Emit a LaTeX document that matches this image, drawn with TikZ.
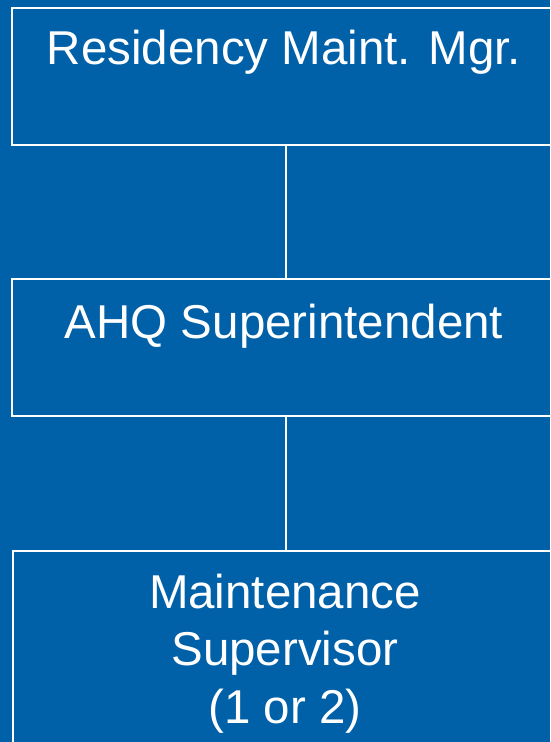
\documentclass[tikz,border=0pt]{standalone}
\usepackage{fontspec}
\setmainfont{Liberation Sans}
\definecolor{bgblue}{RGB}{0,96,168}
\begin{document}
\begin{tikzpicture}[x=1pt,y=-1pt,
  orgbox/.style={draw=white,line width=1.5pt,fill=none,inner sep=0pt,anchor=north west},
  orgtext/.style={text=white,font=\fontsize{47.5}{57.5}\selectfont,inner sep=0pt,align=center,anchor=base},
  link/.style={draw=white,line width=2pt}]
\useasboundingbox (0,0) rectangle (550,742);
\fill[bgblue] (0,0) rectangle (550,742);
\clip (0,0) rectangle (550,742);
\node[orgbox,minimum width=547pt,minimum height=137pt] (b1) at (11,7) {};
\node[orgbox,minimum width=547pt,minimum height=137pt] (b2) at (11,278) {};
\node[orgbox,minimum width=547pt,minimum height=240pt] (b3) at (12,550) {};
\node[orgtext] (t1) at (284,64) {Residency Maint. Mgr.};
\node[orgtext] (t2) at (284,338) {AHQ Superintendent};
\node[orgtext] (t3) at (285,723) {Maintenance\\Supervisor\\(1 or 2)};
\draw[link] (b1.south -| 285.5,0) -- (b2.north -| 285.5,0);
\draw[link] (b2.south -| 285.5,0) -- (b3.north -| 285.5,0);
\end{tikzpicture}
\end{document}
